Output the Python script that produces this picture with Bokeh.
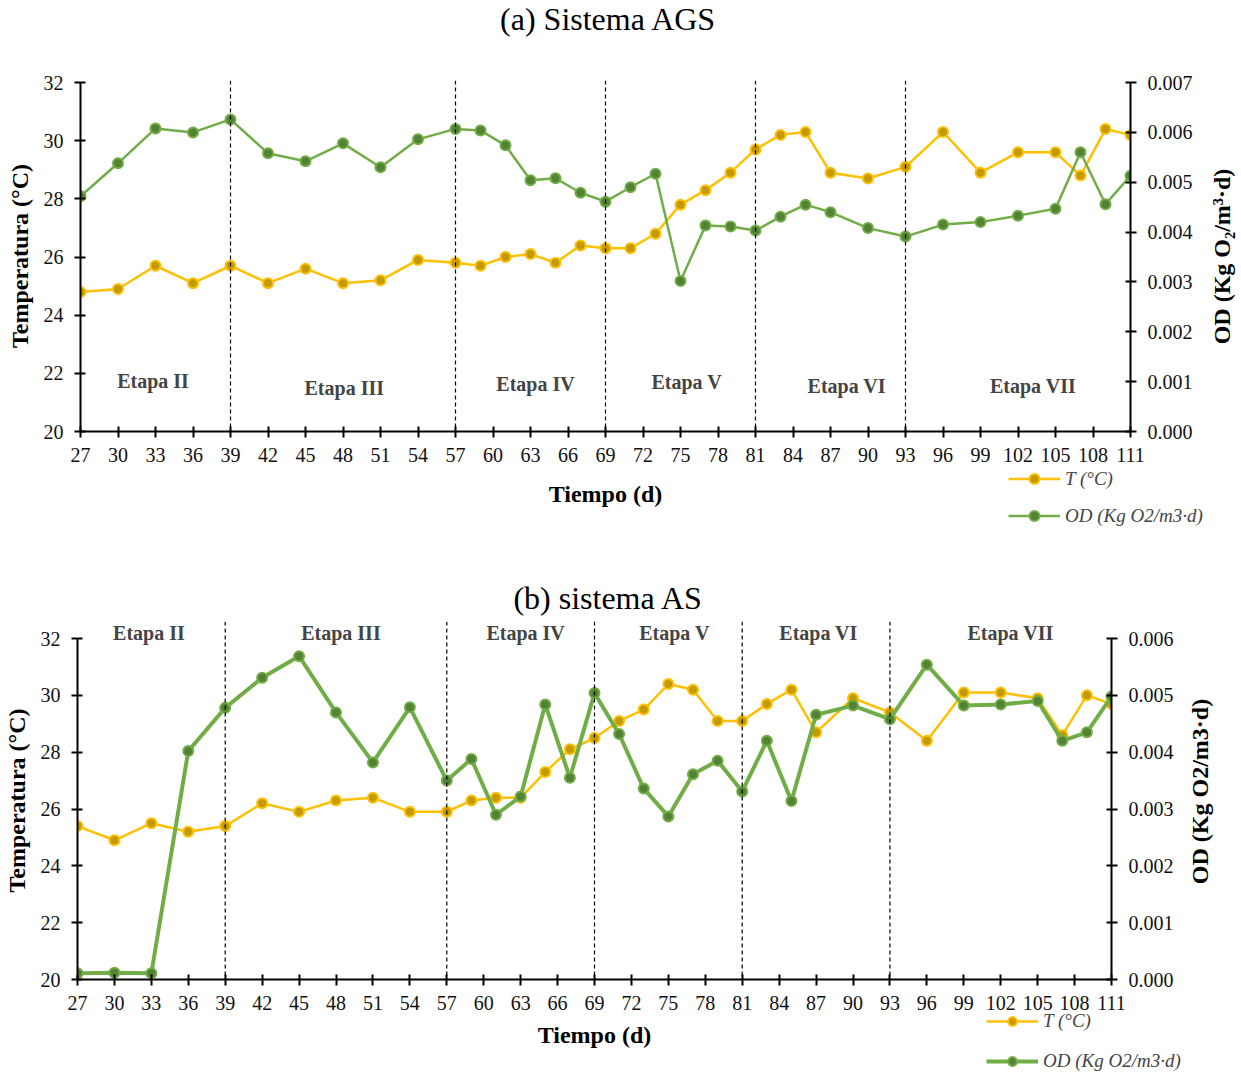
import math

from bokeh.plotting import figure
from bokeh.models import (Range1d, LinearAxis, FixedTicker, NumeralTickFormatter,
                          Span, Label, Legend, LegendItem)
from bokeh.layouts import column
from bokeh.embed import file_html
from bokeh.resources import INLINE

# Sampling days (d)
days = [27, 30, 33, 36, 39, 42, 45, 48, 51, 54, 57, 59, 61, 63, 65, 67, 69, 71,
        73, 75, 77, 79, 81, 83, 85, 87, 90, 93, 96, 99, 102, 105, 107, 109, 111]

# (a) AGS system
ags_temp = [24.8, 24.9, 25.7, 25.1, 25.7, 25.1, 25.6, 25.1, 25.2, 25.9, 25.8,
            25.7, 26.0, 26.1, 25.8, 26.4, 26.3, 26.3, 26.8, 27.8, 28.3, 28.9,
            29.7, 30.2, 30.3, 28.9, 28.7, 29.1, 30.3, 28.9, 29.6, 29.6, 28.8,
            30.4, 30.2]
ags_od = [0.00472, 0.00538, 0.00608, 0.00600, 0.00626, 0.00558, 0.00542,
          0.00578, 0.00530, 0.00586, 0.00607, 0.00604, 0.00574, 0.00504,
          0.00508, 0.00479, 0.00461, 0.00490, 0.00517, 0.00302, 0.00413,
          0.00411, 0.00403, 0.00431, 0.00455, 0.00440, 0.00408, 0.00391,
          0.00415, 0.00420, 0.00433, 0.00447, 0.00560, 0.00456, 0.00513]

# (b) AS system
as_temp = [25.4, 24.9, 25.5, 25.2, 25.4, 26.2, 25.9, 26.3, 26.4, 25.9, 25.9,
           26.3, 26.4, 26.4, 27.3, 28.1, 28.5, 29.1, 29.5, 30.4, 30.2, 29.1,
           29.1, 29.7, 30.2, 28.7, 29.9, 29.4, 28.4, 30.1, 30.1, 29.9, 28.6,
           30.0, 29.7]
as_od = [0.00011, 0.00012, 0.00011, 0.00402, 0.00478, 0.00531, 0.00569,
         0.00470, 0.00382, 0.00479, 0.00350, 0.00388, 0.00290, 0.00322,
         0.00484, 0.00355, 0.00504, 0.00432, 0.00336, 0.00287, 0.00361,
         0.00385, 0.00331, 0.00420, 0.00314, 0.00466, 0.00482, 0.00458,
         0.00554, 0.00482, 0.00484, 0.00490, 0.00420, 0.00435, 0.00498]

# Stage boundaries (d) and names
stage_limits = [39, 57, 69, 81, 93]
stage_names = ["Etapa II", "Etapa III", "Etapa IV", "Etapa V", "Etapa VI", "Etapa VII"]
x_ticks = list(range(27, 112, 3))
t_ticks = list(range(20, 33, 2))

FONT = "Liberation Serif"
INK = "black"
T_LINE, T_FILL = "#FFC000", "#C39A00"
OD_LINE, OD_FILL = "#70AD47", "#548235"
T_LABEL = "T (°C)"
OD_LEGEND = "OD (Kg O2/m3·d)"
PAGE_W = 1241


def free_frame(p):
    # each canvas keeps its own borders instead of lining up with its neighbours
    if "frame_align" in p.properties():
        p.frame_align = False


def bare(height):
    """Transparent axis-less canvas; its frame fills it (1 unit = 1 px)."""
    k = figure(frame_width=PAGE_W, frame_height=height, output_backend="svg",
               toolbar_location=None, title=None,
               x_axis_location=None, y_axis_location=None,
               x_range=Range1d(0, PAGE_W), y_range=Range1d(0, height),
               min_border_left=0, min_border_right=0, min_border_top=0, min_border_bottom=0)
    free_frame(k)
    k.grid.visible = False
    k.outline_line_color = None
    k.background_fill_alpha = 0
    k.border_fill_alpha = 0
    return k


def caption(text, height, cx, cy_from_bottom):
    k = bare(height)
    k.add_layout(Label(x=cx, y=cy_from_bottom, text=text, text_font=FONT,
                       text_font_size="32px", text_color=INK,
                       text_align="center", text_baseline="middle"))
    return k


def overlay(height, temp, od, od_label, od_xy, loc, glyph_h, spacing, od_width):
    """Transparent sheet laid over a chart: its series key and its right-hand axis title."""
    k = bare(height)
    k.extra_y_ranges = {"od": Range1d(0, 1)}
    # hidden copies of the two series, only used to draw the key swatches
    t_line = k.line(days, temp, line_color=T_LINE, line_width=2.5, visible=False)
    t_mark = k.scatter(days, temp, marker="circle", fill_color=T_FILL,
                       line_color=T_LINE, line_width=2, visible=False)
    od_line = k.line(days, od, y_range_name="od", line_color=OD_LINE,
                     line_width=od_width, visible=False)
    od_mark = k.scatter(days, od, y_range_name="od", marker="circle", fill_color=OD_FILL,
                        line_color=OD_LINE, line_width=2, visible=False)
    k.add_layout(Legend(items=[LegendItem(label=T_LABEL, renderers=[t_line, t_mark]),
                               LegendItem(label=OD_LEGEND, renderers=[od_line, od_mark])],
                        location=loc, padding=0, margin=0, spacing=spacing,
                        glyph_width=52, glyph_height=glyph_h, label_height=glyph_h,
                        label_standoff=5, label_text_font=FONT,
                        label_text_font_style="italic", label_text_font_size="19px",
                        border_line_color=None, background_fill_alpha=0,
                        inactive_fill_alpha=0))
    k.add_layout(Label(x=od_xy[0], y=od_xy[1], text=od_label, angle=math.pi / 2,
                       text_font=FONT, text_font_style="bold", text_font_size="24px",
                       text_color=INK, text_align="center", text_baseline="middle"))
    k.margin = (-height, 0, 0, 0)
    return k


def chart(temp, od, od_max, height, border, y_top, stage_x, stage_y,
          od_width, xlabel_standoff):
    left, right, top, bottom = border
    p = figure(width=PAGE_W, height=height, output_backend="svg", toolbar_location=None,
               title=None, x_range=Range1d(27, 111), y_range=Range1d(20, y_top),
               min_border_left=left, min_border_right=right,
               min_border_top=top, min_border_bottom=bottom)
    free_frame(p)
    p.outline_line_color = None
    p.grid.visible = False
    p.background_fill_alpha = 0
    p.border_fill_alpha = 0

    # OD axis shares the frame: its range is stretched the same way as the T range
    p.extra_y_ranges = {"od": Range1d(0, od_max * (y_top - 20) / 12)}
    od_ticks = [i / 1000 for i in range(int(round(od_max * 1000)) + 1)]
    right_axis = LinearAxis(y_range_name="od", ticker=FixedTicker(ticks=od_ticks),
                            formatter=NumeralTickFormatter(format="0.000"),
                            bounds=(0, od_max))
    p.add_layout(right_axis, "right")
    left_axis = p.yaxis[0]
    left_axis.ticker = FixedTicker(ticks=t_ticks)
    left_axis.bounds = (20, 32)
    left_axis.axis_label = "Temperatura (°C)"

    p.xaxis.ticker = FixedTicker(ticks=x_ticks)
    p.xaxis.axis_label = "Tiempo (d)"

    for ax in [p.xaxis[0], left_axis, right_axis]:
        ax.axis_line_color = INK
        ax.axis_line_width = 2
        ax.major_tick_line_color = INK
        ax.major_tick_line_width = 2
        ax.major_tick_in = 5
        ax.major_tick_out = 6
        ax.minor_tick_line_color = None
        ax.major_label_text_font = FONT
        ax.major_label_text_font_size = "20px"
        ax.major_label_text_color = "#111111"
        ax.axis_label_text_font = FONT
        ax.axis_label_text_font_style = "bold"
        ax.axis_label_text_font_size = "24px"
        ax.axis_label_text_color = INK

    p.xaxis.major_label_standoff = 10
    p.xaxis.axis_label_standoff = xlabel_standoff
    left_axis.major_label_standoff = 11
    left_axis.axis_label_standoff = 8
    right_axis.major_label_standoff = 11

    for d in stage_limits:
        p.add_layout(Span(location=d, dimension="height", line_color=INK,
                          line_width=1.2, line_dash="4 3"))

    for name, sx, sy in zip(stage_names, stage_x, stage_y):
        p.add_layout(Label(x=sx, y=sy, text=name, text_font=FONT,
                           text_font_style="bold", text_font_size="20px",
                           text_align="center", text_baseline="middle"))

    p.line(days, temp, line_color=T_LINE, line_width=2.5)
    p.scatter(days, temp, marker="circle", size=10, fill_color=T_FILL,
              line_color=T_LINE, line_width=2)
    p.line(days, od, y_range_name="od", line_color=OD_LINE, line_width=od_width)
    p.scatter(days, od, y_range_name="od", marker="circle", size=10,
              fill_color=OD_FILL, line_color=OD_LINE, line_width=2)
    return p


title_a = caption("(a) Sistema AGS", 38, 608, 20)
chart_a = chart(ags_temp, ags_od, 0.007,
                height=513, border=(80, 111, 42, 120), y_top=32.07,
                stage_x=[32.8, 48.1, 63.4, 75.5, 88.3, 103.2],
                stage_y=[21.72, 21.51, 21.62, 21.69, 21.58, 21.55],
                od_width=2.5, xlabel_standoff=16)
over_a = overlay(513, ags_temp, ags_od, "OD (Kg O₂/m³·d)", (1221, 295),
                 (1008, 23), 25, 12, 2.5)

title_b = caption("(b) sistema AS", 70, 608, 24)
chart_b = chart(as_temp, as_od, 0.006,
                height=451, border=(76, 130, 0, 93), y_top=32.6,
                stage_x=[32.8, 48.4, 63.4, 75.5, 87.2, 102.8],
                stage_y=[32.21] * 6,
                od_width=4, xlabel_standoff=9)
over_b = overlay(451, as_temp, as_od, "OD (Kg O2/m3·d)", (1199, 281),
                 (986, 0), 22, 18, 4)

layout = column(title_a, chart_a, over_a, title_b, chart_b, over_b, spacing=0)
open("out.html", "w").write(file_html(layout, INLINE))
